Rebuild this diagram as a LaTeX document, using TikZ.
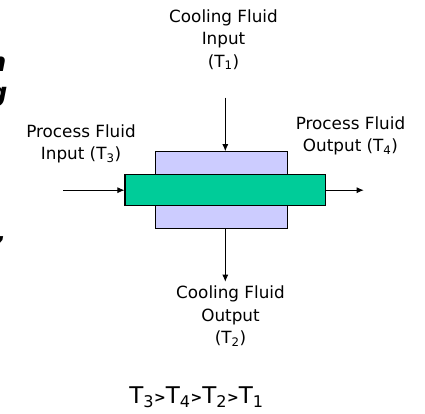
\documentclass[tikz,border=0pt]{standalone}
\usepackage{fontspec}
\setmainfont{DejaVu Sans}
\usetikzlibrary{positioning,arrows.meta}
\definecolor{jacketblue}{RGB}{204,204,255}
\definecolor{tubegreen}{RGB}{0,204,153}
\tikzset{
  labeltext/.style={align=center,font=\fontsize{16.8}{22.5}\selectfont,inner sep=0pt},
  cutoff/.style={font=\fontsize{26}{30}\selectfont\bfseries\itshape,inner sep=0pt},
  flowarrow/.style={-{Latex[length=7pt,width=6pt]},line width=0.8pt},
}
\newcommand{\tempsub}[1]{T\textsubscript{#1}}
\newcommand{\gtsign}{\raisebox{1pt}{\fontsize{14}{14}\selectfont\bfseries>}}
\begin{document}
\begin{tikzpicture}[x=1pt, y=-1pt, line width=1.1pt]
  \path[use as bounding box] (0,0) rectangle (425,414);

  %% jacket and tube
  \node[draw,fill=jacketblue,minimum width=131.6pt,minimum height=77pt,inner sep=0pt] (jacket) at (221.5,190.2) {};
  \node[draw,fill=tubegreen,minimum width=200.7pt,minimum height=31pt,inner sep=0pt] (tube) at (225.3,190.2) {};

  %% labels
  \node[labeltext] (coolin) at (223.5,39.5) {Cooling Fluid\\Input\\(\tempsub{1})};
  \node[labeltext] (coolout) at (230.5,316.5) {Cooling Fluid\\Output\\(\tempsub{2})};
  \node[labeltext] (procin) at (81,144) {Process Fluid\\Input (\tempsub{3})};
  \node[labeltext] (procout) at (350.5,136) {Process Fluid\\Output (\tempsub{4})};
  \node[inner sep=0pt,font=\fontsize{23}{27}\selectfont] (order) at (196.5,397) {\tempsub{3}\gtsign\tempsub{4}\gtsign\tempsub{2}\gtsign\tempsub{1}};

  %% text cut off by the left edge
  \node[cutoff,anchor=base east] (cutn) at (7,72) {n};
  \node[cutoff,anchor=base east] (cutg) at (8,102) {g};
  \node[cutoff,anchor=base east] (cutc) at (7,241) {,};

  %% connectors
  \coordinate (coolstart) at (225.3,97.7);
  \coordinate (coolend) at (225.3,281.7);
  \coordinate (procstart) at (63,190.2);
  \coordinate (procend) at (363.7,190.2);
  \draw[flowarrow] (coolstart) -- (coolstart |- jacket.north);
  \draw[flowarrow] (coolstart |- jacket.south) -- (coolend);
  \draw[flowarrow] (procstart) -- (tube.west);
  \draw[flowarrow] (tube.east) -- (procend);
\end{tikzpicture}
\end{document}
